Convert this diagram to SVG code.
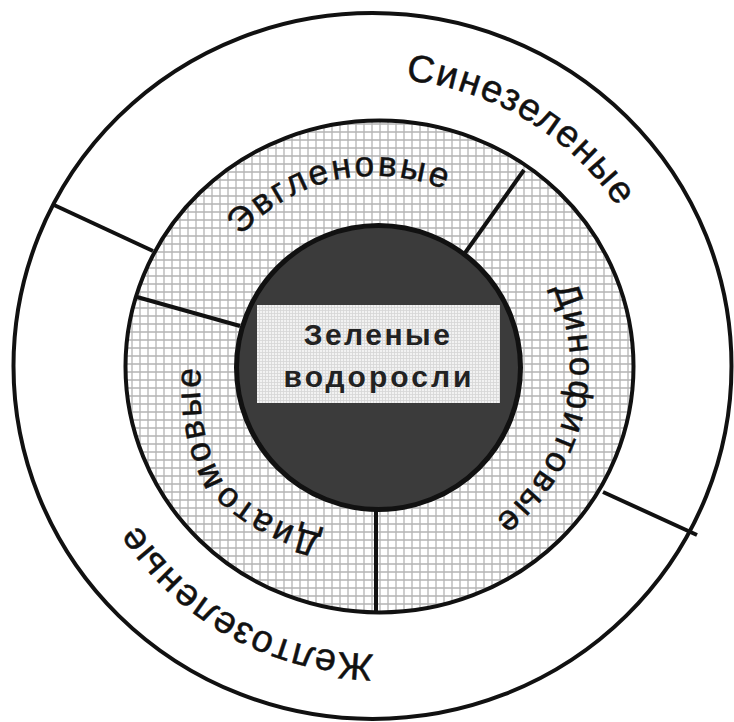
<svg xmlns="http://www.w3.org/2000/svg" xmlns:xlink="http://www.w3.org/1999/xlink" width="734" height="722" viewBox="0 0 734 722">
  <defs>
    <pattern id="grid" width="8" height="8" patternUnits="userSpaceOnUse">
      <rect width="8" height="8" fill="#ffffff"/>
      <path d="M4 0V8M0 4H8" stroke="#b4b4b4" stroke-width="1.3" fill="none"/>
    </pattern>
    <pattern id="fine" width="3" height="3" patternUnits="userSpaceOnUse">
      <rect width="3" height="3" fill="#f2f2f2"/>
      <path d="M1.5 0V3M0 1.5H3" stroke="#d6d6d6" stroke-width="0.8" fill="none"/>
    </pattern>
    <path id="p-sin" d="M229.7,613.9 A288,288 0 0 1 526.3,120.1 A288,288 0 0 1 229.7,613.9"/>
    <path id="p-zhel" d="M517.6,115.1 A288,288 0 0 1 238.4,618.9 A288,288 0 0 1 517.6,115.1"/>
    <path id="p-evg" d="M419.6,554.4 A192,192 0 0 1 336.4,179.6 A192,192 0 0 1 419.6,554.4"/>
    <path id="p-din" d="M192.1,318.9 A192,192 0 0 1 563.9,415.1 A192,192 0 0 1 192.1,318.9"/>
    <path id="p-dia" d="M534.3,255.5 A194,194 0 0 1 221.7,478.5 A194,194 0 0 1 534.3,255.5"/>
  </defs>
  <style>
    .ring { stroke: #111; stroke-width: 4; }
    .div { stroke: #111; stroke-width: 4; stroke-linecap: butt; }
    .outer-t { font-family: "Liberation Sans", Arial, sans-serif; font-size: 38px; fill: #111; stroke: #111; stroke-width: 0.5; letter-spacing: 1.5px; }
    .mid-t { font-family: "Liberation Sans", Arial, sans-serif; font-size: 35px; fill: #111; stroke: #111; stroke-width: 0.5; letter-spacing: 2.8px; }
    .center-t { font-family: "Liberation Sans", Arial, sans-serif; font-size: 30px; font-weight: bold; fill: #222; text-anchor: middle; }
  </style>
  <rect width="734" height="722" fill="#ffffff"/>

  <g id="outer-ring">
    <ellipse cx="372.5" cy="366" rx="359" ry="353" fill="#ffffff" class="ring"/>
  </g>
  <g id="middle-ring">
    <ellipse cx="379.5" cy="366.5" rx="254" ry="246" fill="url(#grid)" class="ring"/>
  </g>

  <g id="connectors">
    <line class="div" x1="54" y1="205" x2="153" y2="251"/>
    <line class="div" x1="137" y1="297" x2="240" y2="326"/>
    <line class="div" x1="524" y1="170" x2="465" y2="253"/>
    <line class="div" x1="603" y1="492" x2="697" y2="535"/>
    <line class="div" x1="376" y1="505" x2="376" y2="612"/>
  </g>

  <g id="zelenye">
    <circle cx="378.5" cy="367.5" r="142" fill="#3b3b3b" stroke="#111" stroke-width="5"/>
    <rect x="257" y="305" width="243" height="98" fill="url(#fine)"/>
    <text class="center-t" x="378" y="345" letter-spacing="2.5">Зеленые</text>
    <text class="center-t" x="379" y="387" letter-spacing="3">водоросли</text>
  </g>

  <g id="sinezelenye">
    <text class="outer-t"><textPath xlink:href="#p-sin" href="#p-sin" startOffset="50%" text-anchor="middle">Синезеленые</textPath></text>
  </g>
  <g id="zheltozelenye">
    <text class="outer-t"><textPath xlink:href="#p-zhel" href="#p-zhel" startOffset="50%" text-anchor="middle">Желтозеленые</textPath></text>
  </g>
  <g id="evglenovye">
    <text class="mid-t"><textPath xlink:href="#p-evg" href="#p-evg" startOffset="50%" text-anchor="middle">Эвгленовые</textPath></text>
  </g>
  <g id="dinofitovye">
    <text class="mid-t"><textPath xlink:href="#p-din" href="#p-din" startOffset="50%" text-anchor="middle">Динофитовые</textPath></text>
  </g>
  <g id="diatomovye">
    <text class="mid-t"><textPath xlink:href="#p-dia" href="#p-dia" startOffset="50%" text-anchor="middle">Диатомовые</textPath></text>
  </g>
</svg>
